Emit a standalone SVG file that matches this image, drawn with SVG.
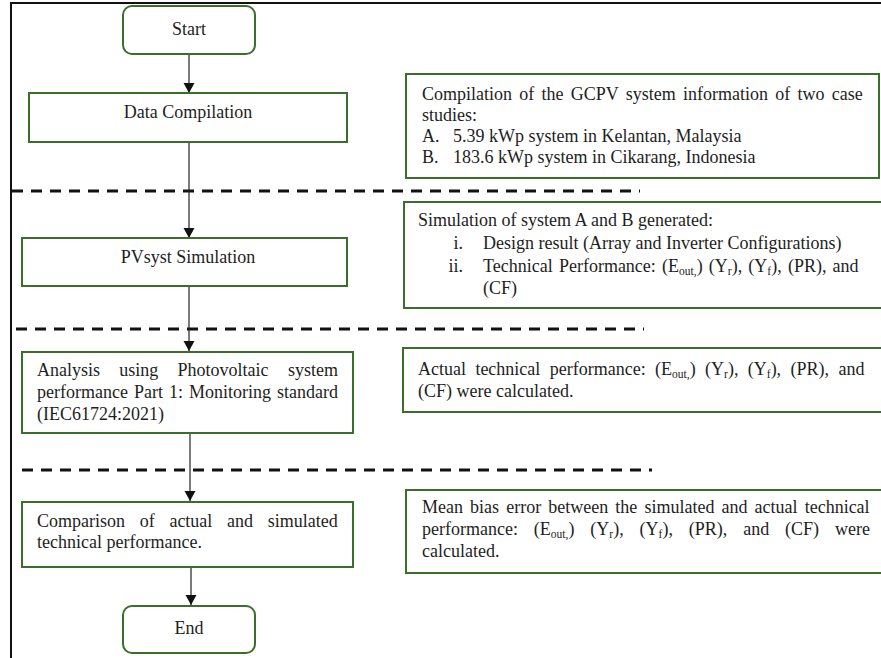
<svg xmlns="http://www.w3.org/2000/svg" width="881" height="658" viewBox="0 0 881 658">
<defs>
<marker id="ah" markerUnits="userSpaceOnUse" markerWidth="12" markerHeight="12" refX="10" refY="5.5" orient="auto">
<path d="M0,0 L10,5.5 L0,11 z" fill="#111"/>
</marker>
<style>
text{font-family:"Liberation Serif","Times New Roman",serif;font-size:18px;fill:#1e1e1e}
.c{text-anchor:middle}
.e{text-anchor:end}
.box{fill:#fff;stroke:#3a6f2b;stroke-width:2}
.conn{stroke:#222;stroke-width:1.2;fill:none;marker-end:url(#ah)}
.dash{stroke:#111;stroke-width:3;stroke-dasharray:11 8;fill:none}
.frame{stroke:#111;stroke-width:2;fill:none}
.sub{font-size:11.5px}
</style>
</defs>
<rect width="881" height="658" fill="#fff"/>
<g id="frame">
<path class="frame" d="M11,658 L11,3 L881,3"/>
</g>
<g id="separators">
<line class="dash" x1="12" y1="191" x2="640" y2="191"/>
<line class="dash" x1="16" y1="329" x2="644" y2="329"/>
<line class="dash" x1="22" y1="470" x2="652" y2="470"/>
</g>
<g id="connectors">
<line class="conn" x1="189" y1="54" x2="189" y2="93"/>
<line class="conn" x1="189" y1="142" x2="189" y2="238"/>
<line class="conn" x1="189" y1="286" x2="189" y2="351"/>
<line class="conn" x1="190" y1="433" x2="190" y2="501"/>
<line class="conn" x1="191" y1="567" x2="191" y2="605"/>
</g>
<g id="start">
<rect class="box" x="123" y="6" width="132" height="48" rx="9"/>
<text class="c" x="189" y="35">Start</text>
</g>
<g id="data-compilation">
<rect class="box" x="29" y="93" width="318" height="49"/>
<text class="c" x="188" y="118">Data Compilation</text>
</g>
<g id="pvsyst-simulation">
<rect class="box" x="22" y="238" width="325" height="48"/>
<text class="c" x="188" y="263">PVsyst Simulation</text>
</g>
<g id="analysis">
<rect class="box" x="22" y="352" width="331" height="81"/>
<text x="37" y="376" word-spacing="14.8">Analysis using Photovoltaic system</text>
<text x="37" y="398" word-spacing="1.5">performance Part 1: Monitoring standard</text>
<text x="37" y="420">(IEC61724:2021)</text>
</g>
<g id="comparison">
<rect class="box" x="22" y="502" width="331" height="65"/>
<text x="37" y="527" word-spacing="10.2">Comparison of actual and simulated</text>
<text x="37" y="548">technical performance.</text>
</g>
<g id="end">
<rect class="box" x="123" y="606" width="132" height="47" rx="9"/>
<text class="c" x="189" y="634">End</text>
</g>
<g id="note-data">
<rect class="box" x="406" y="74" width="473" height="104"/>
<text x="422" y="100" word-spacing="2.75">Compilation of the GCPV system information of two case</text>
<text x="422" y="121">studies:</text>
<text x="422" y="142">A.</text>
<text x="453" y="142">5.39 kWp system in Kelantan, Malaysia</text>
<text x="422" y="163">B.</text>
<text x="453" y="163">183.6 kWp system in Cikarang, Indonesia</text>
</g>
<g id="note-simulation">
<rect class="box" x="404" y="202" width="490" height="106"/>
<text x="418" y="226">Simulation of system A and B generated:</text>
<text class="e" x="463" y="249">i.</text>
<text x="483" y="249">Design result (Array and Inverter Configurations)</text>
<text class="e" x="463" y="272">ii.</text>
<text x="483" y="272" word-spacing="1.7">Technical Performance: (E<tspan class="sub" dy="3">out,</tspan><tspan dy="-3">) (Y</tspan><tspan class="sub" dy="3">r</tspan><tspan dy="-3">), (Y</tspan><tspan class="sub" dy="3">f</tspan><tspan dy="-3">), (PR), and</tspan></text>
<text x="483" y="294">(CF)</text>
</g>
<g id="note-analysis">
<rect class="box" x="403" y="348" width="491" height="64"/>
<text x="418" y="375" word-spacing="4.9">Actual technical performance: (E<tspan class="sub" dy="3">out,</tspan><tspan dy="-3">) (Y</tspan><tspan class="sub" dy="3">r</tspan><tspan dy="-3">), (Y</tspan><tspan class="sub" dy="3">f</tspan><tspan dy="-3">), (PR), and</tspan></text>
<text x="418" y="397">(CF) were calculated.</text>
</g>
<g id="note-comparison">
<rect class="box" x="406" y="490" width="488" height="83"/>
<text x="422" y="513" word-spacing="2.6">Mean bias error between the simulated and actual technical</text>
<text x="422" y="535" word-spacing="11.4">performance: (E<tspan class="sub" dy="3">out,</tspan><tspan dy="-3">) (Y</tspan><tspan class="sub" dy="3">r</tspan><tspan dy="-3">), (Y</tspan><tspan class="sub" dy="3">f</tspan><tspan dy="-3">), (PR), and (CF) were</tspan></text>
<text x="422" y="557">calculated.</text>
</g>
</svg>
